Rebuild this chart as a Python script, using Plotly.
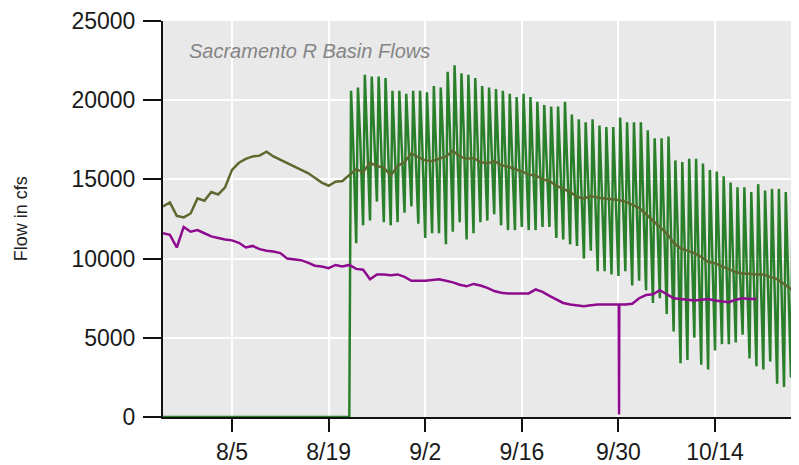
import pandas as pd
import plotly.graph_objects as go

# flows in cfs
start = pd.Timestamp("2019-07-26")

olive_flow = [
    13300, 13550, 12700, 12600, 12850, 13800, 13650, 14200, 14050, 14500,
    15600, 16050, 16300, 16450, 16500, 16750, 16450, 16250, 16050, 15800,
    15600, 15400, 15100, 14800, 14600, 14850, 14900, 15300, 15650, 15450,
    16050, 15850, 15750, 15250, 15850, 16100, 16650, 16400, 16200, 16150,
    16300, 16450, 16800, 16450, 16300, 16350, 16100, 16000, 16150, 15900,
    15800, 15650, 15500, 15300, 15250, 15000, 14900, 14600, 14400, 14200,
    13900, 13800, 13950, 13850, 13800, 13750, 13700, 13600, 13400, 13200,
    12800, 12400, 12000, 11600, 11000, 10650, 10500, 10350, 10100, 9800,
    9700, 9500, 9300, 9150, 9050, 9050, 9000, 9000, 8850, 8700,
    8400, 8100, 7750,
]

purple_flow = [
    11600, 11500, 10700, 12000, 11700, 11800, 11600, 11400, 11300, 11200,
    11150, 11000, 10700, 10800, 10600, 10500, 10450, 10350, 10000, 9950,
    9900, 9750, 9550, 9500, 9400, 9600, 9500, 9600, 9350, 9300,
    8700, 9000, 9000, 8950, 9000, 8850, 8600, 8600, 8600, 8650,
    8700, 8600, 8500, 8350, 8250, 8400, 8300, 8150, 7950, 7850,
    7800, 7800, 7800, 7800, 8050, 7900, 7650, 7400, 7200, 7100,
    7050, 7000, 7050, 7100, 7100, 7100, 7100, 7100, 7150, 7500,
    7700, 7750, 8000, 7750, 7500, 7450, 7400, 7350, 7400, 7450,
    7350, 7300, 7250, 7400, 7500, 7450, 7450,
]
purple_dip_time = ["2019-09-30 01:00", "2019-09-30 02:00", "2019-09-30 03:00"]
purple_dip_flow = [7100, 150, 7100]

# pulsed releases: daily low / peak / typical level from 8/22 on (zero before that)
green_start = pd.Timestamp("2019-08-22")
green_low = [
    0, 10970, 12100, 12400, 13600, 12300, 12100, 12300, 12900, 13300,
    12200, 11300, 11600, 11600, 10900, 11700, 12300, 11200, 11600, 12300,
    12400, 12800, 12100, 11800, 11800, 12000, 11800, 11800, 12000, 12000,
    11300, 11200, 10900, 10800, 10000, 10500, 9200, 9200, 9000, 8900,
    9200, 8300, 8600, 8000, 7200, 7500, 6500, 5400, 3400, 3600,
    5000, 3300, 3000, 4200, 4600, 4600, 4700, 5200, 3700, 3200,
    3000, 3500, 2100, 1900, 2500, 2000,
]
green_high = [
    20600, 20800, 21600, 21500, 21500, 21400, 20600, 20600, 20400, 20600,
    20600, 20500, 20900, 20800, 21800, 22200, 21700, 21600, 21400, 20900,
    20800, 20700, 20600, 20400, 20200, 20400, 20200, 19900, 19700, 19600,
    19600, 19900, 19100, 18800, 18600, 18800, 18400, 18300, 18300, 18900,
    18600, 18600, 18600, 18100, 17600, 17600, 17700, 16200, 16100, 16300,
    16300, 16000, 15600, 15500, 15200, 14800, 14500, 14500, 14200, 14700,
    14300, 14400, 14400, 14200, 14200, 14000,
]
green_mid = [
    17000, 17500, 17800, 18000, 17500, 17200, 17000, 17300, 17500, 17200,
    17000, 16800, 17200, 17500, 18000, 18300, 18000, 17500, 17200, 17300,
    17000, 17200, 16800, 16600, 16500, 16700, 16300, 16200, 16000, 15800,
    15600, 15800, 15200, 15000, 14800, 15000, 14600, 14400, 14500, 14600,
    14300, 14200, 14000, 13500, 13000, 12800, 12600, 11800, 11000, 11200,
    11000, 10500, 10200, 10300, 10000, 9600, 9400, 9500, 9000, 9300,
    8800, 9000, 8600, 8400, 8200, 8000,
]

tick_dates = ["2019-08-05", "2019-08-19", "2019-09-02", "2019-09-16", "2019-09-30", "2019-10-14"]
tick_text = ["8/5", "8/19", "9/2", "9/16", "9/30", "10/14"]
y_ticks = [0, 5000, 10000, 15000, 20000, 25000]

FONT = "Liberation Sans, Arial, sans-serif"

olive_t = pd.date_range(start, periods=len(olive_flow), freq="D")

purple = pd.DataFrame({
    "t": list(pd.date_range(start, periods=len(purple_flow), freq="D")) + list(pd.to_datetime(purple_dip_time)),
    "v": purple_flow + purple_dip_flow,
}).sort_values("t")

hrs = pd.Timedelta(hours=1)
green_t, green_v = [start, green_start], [0, 0]
for i, (lo, hi, mid) in enumerate(zip(green_low, green_high, green_mid)):
    day = green_start + pd.Timedelta(days=i)
    green_t += [day, day + 6 * hrs, day + 14 * hrs]
    green_v += [lo, hi, mid]

fig = go.Figure()
fig.add_trace(go.Scatter(x=green_t, y=green_v, mode="lines",
                         line=dict(color="rgba(0,105,0,0.82)", width=2.5)))
fig.add_trace(go.Scatter(x=olive_t, y=olive_flow, mode="lines",
                         line=dict(color="#5c6a30", width=2.5)))
fig.add_trace(go.Scatter(x=purple["t"], y=purple["v"], mode="lines",
                         line=dict(color="#8e0a8e", width=2.5)))

# page body adds an 8px offset, so the figure is sized 8px short on each side
fig.add_annotation(text="Sacramento R Basin Flows", xref="paper", yref="paper",
                   x=0.037, y=0.925, xanchor="left", yanchor="middle", showarrow=False,
                   font=dict(family=FONT, size=20, color="#858585", style="italic"))
fig.add_annotation(text="Flow in cfs", xref="paper", yref="paper",
                   x=-0.223, y=0.5, textangle=-90, showarrow=False,
                   xanchor="center", yanchor="middle",
                   font=dict(family=FONT, size=18, color="#222"))

fig.update_layout(
    width=791, height=457,
    margin=dict(l=155, r=0, t=12, b=44),
    plot_bgcolor="#e9e9e9", paper_bgcolor="white",
    showlegend=False,
    font=dict(family=FONT, size=23, color="#1a1a1a"),
)
fig.update_xaxes(
    range=[start, pd.Timestamp("2019-10-26 04:00")],
    tickvals=pd.to_datetime(tick_dates), ticktext=tick_text,
    showgrid=True, gridcolor="white", gridwidth=2,
    showline=True, linecolor="#111", linewidth=2,
    ticks="outside", ticklen=13, tickwidth=2, tickcolor="#111",
    zeroline=False,
)
fig.update_yaxes(
    range=[0, 25000], tickvals=y_ticks, tickformat="d",
    showgrid=True, gridcolor="white", gridwidth=2,
    showline=True, linecolor="#111", linewidth=2,
    ticks="outside", ticklen=18, tickwidth=2, tickcolor="#111",
    ticklabelstandoff=3, ticklabeloverflow="allow", zeroline=False,
)

fig.write_html("out.html")
